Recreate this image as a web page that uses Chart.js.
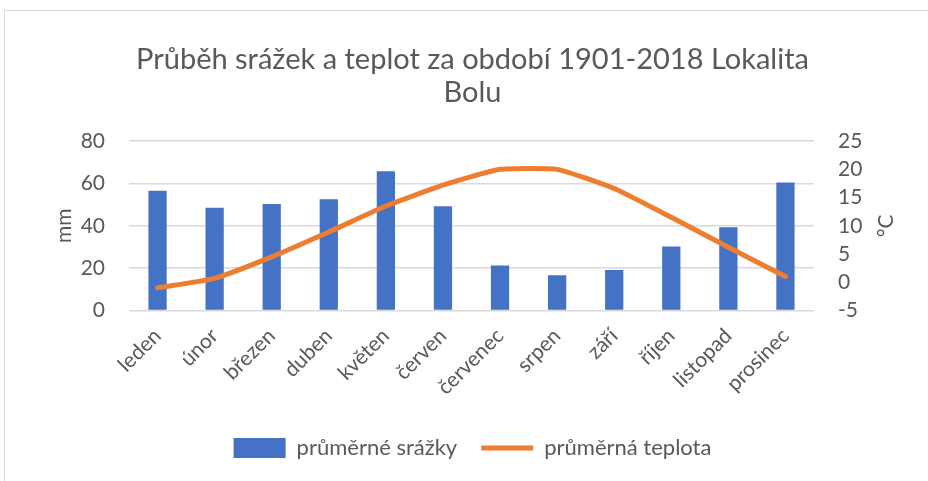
<!DOCTYPE html>
<html>
<head>
<meta charset="utf-8">
<script src="https://cdn.jsdelivr.net/npm/chart.js@4"></script>
<style>
  html, body { margin: 0; padding: 0; overflow: hidden; background: #fff; }
  #frame { position: absolute; left: 4px; top: 10px; width: 1000px; height: 600px; border: 1px solid #d9d9d9; }
  #wrap { position: absolute; left: 0; top: 0; width: 948px; height: 481px; }
</style>
</head>
<body>
<div id="frame"></div>
<div id="wrap"><canvas id="chart" width="948" height="481"></canvas></div>
<script>
// Monthly climate data, Bolu 1901-2018
const months = ["leden", "únor", "březen", "duben", "květen", "červen",
  "červenec", "srpen", "září", "říjen", "listopad", "prosinec"];
const rain = [56.5, 48.5, 50.3, 52.5, 65.8, 49.2, 21.3, 16.6, 19.1, 30.2, 39.3, 60.5];
const temp = [-1.0, 0.7, 4.5, 8.9, 13.5, 17.2, 20.0, 20.0, 16.6, 11.5, 6.2, 1.0];

const grey = "#595959";
const font = "Lato";

// right axis title, read bottom-to-top like the left one
const rightTitle = {
  id: "rightTitle",
  afterDraw(chart) {
    const c = chart.ctx;
    const a = chart.chartArea;
    c.save();
    c.translate(886, (a.top + a.bottom) / 2);
    c.rotate(-Math.PI / 2);
    c.fillStyle = grey;
    c.font = "21px " + font;
    c.textAlign = "center";
    c.textBaseline = "middle";
    c.fillText("°C", 0, 0);
    c.restore();
  },
};

const ctx = document.getElementById("chart").getContext("2d");
new Chart(ctx, {
  data: {
    labels: months,
    datasets: [
      {
        type: "line",
        label: "průměrná teplota",
        data: temp,
        yAxisID: "y2",
        borderColor: "#ED7D31",
        backgroundColor: "#ED7D31",
        borderWidth: 5,
        borderCapStyle: "round",
        pointRadius: 0,
        tension: 0.15,
        pointStyle: "line",
        order: 0,
      },
      {
        type: "bar",
        label: "průměrné srážky",
        data: rain,
        yAxisID: "y",
        backgroundColor: "#4472C4",
        barPercentage: 0.32,
        categoryPercentage: 1,
        pointStyle: "rect",
        order: 1,
      },
    ],
  },
  options: {
    responsive: false,
    animation: false,
    layout: { padding: { left: 48, right: 51, top: 8, bottom: 12 } },
    plugins: {
      title: {
        display: true,
        text: ["Průběh srážek a teplot za období 1901-2018 Lokalita", "Bolu"],
        color: grey,
        font: { family: font, size: 29, weight: "normal", lineHeight: 1.14 },
        padding: { top: 35, bottom: 32 },
      },
      legend: {
        position: "bottom",
        reverse: true,
        labels: {
          color: grey,
          font: { family: font, size: 22 },
          usePointStyle: true,
          pointStyleWidth: 52,
          boxHeight: 20,
          padding: 24,
        },
      },
      tooltip: { enabled: false },
    },
    scales: {
      x: {
        grid: { display: false, drawTicks: false },
        border: { display: false },
        afterFit(scale) {
          scale.paddingLeft = 0;
          scale.paddingRight = 0;
        },
        ticks: {
          color: grey,
          font: { family: font, size: 21 },
          minRotation: 45,
          maxRotation: 45,
          padding: 13,
        },
      },
      y: {
        position: "left",
        min: 0,
        max: 80,
        afterFit(scale) { scale.width = 81; },
        ticks: { stepSize: 20, color: grey, font: { family: font, size: 21 }, padding: 24 },
        grid: { color: "#d9d9d9", drawTicks: false, lineWidth: 1.5 },
        border: { display: false },
        title: { display: true, text: "mm", color: grey, font: { family: font, size: 21 }, padding: 4 },
      },
      y2: {
        position: "right",
        min: -5,
        max: 25,
        afterFit(scale) { scale.width = 83; },
        ticks: { stepSize: 5, autoSkip: false, color: grey, font: { family: font, size: 21 }, padding: 24 },
        grid: { display: false, drawTicks: false },
        border: { display: false },
      },
    },
  },
  plugins: [rightTitle],
});
</script>
</body>
</html>
